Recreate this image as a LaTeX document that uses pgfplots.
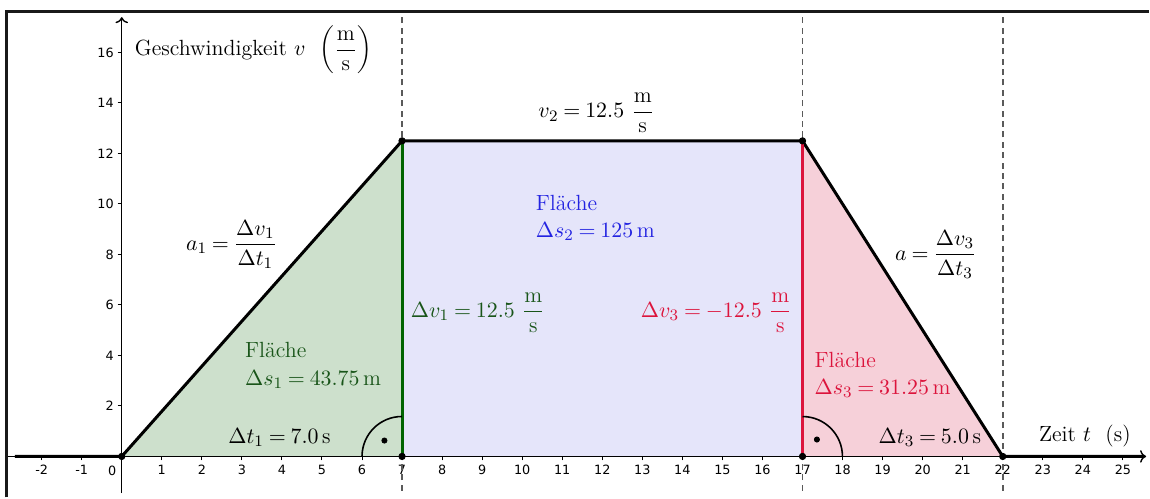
\documentclass[border=0pt]{standalone}
\usepackage{fontspec}
\usepackage{pgfplots}
\pgfplotsset{compat=1.18}
\usetikzlibrary{arrows.meta}
\newfontfamily\tickfont{DejaVu Sans}
\definecolor{gFill}{RGB}{205,224,204}
\definecolor{bFill}{RGB}{229,229,250}
\definecolor{rFill}{RGB}{246,208,217}
\definecolor{gLine}{RGB}{0,100,0}
\definecolor{gText}{RGB}{25,85,25}
\definecolor{bText}{RGB}{35,35,225}
\definecolor{rLine}{RGB}{220,20,60}
\definecolor{dashGray}{RGB}{90,90,90}
\newcommand{\dfrac}[2]{{\displaystyle\frac{#1}{#2}}}
\newcommand{\ms}{\dfrac{\mathrm{m}}{\mathrm{s}}}
\thickmuskip=4mu plus 2mu
\medmuskip=3mu plus 1mu
\tikzset{lbl/.style={font=\fontsize{11}{13.6}\selectfont, inner sep=0pt}}
\begin{document}
\begin{tikzpicture}
\begin{axis}[
  width=575pt, height=249pt, scale only axis,
  xmin=-3.04, xmax=25.64, ymin=-1.62, ymax=18.08,
  axis lines=middle, axis line style={draw=none},
  clip=false,
  xtick={-2,-1,1,2,3,4,5,6,7,8,9,10,11,12,13,14,15,16,17,18,19,20,21,22,23,24,25},
  ytick={2,4,6,8,10,12,14,16},
  tick align=outside, major tick length=2pt,
  tick style={black, line width=0.5pt},
  ticklabel style={font=\tickfont\fontsize{6.4}{7}\selectfont},
  /pgf/number format/assume math mode=true,
  xticklabel style={yshift=1.2pt},
  yticklabel style={xshift=1.5pt},
]
% areas
\addplot[draw=none, fill=gFill] coordinates {(0,0) (7,12.5)} \closedcycle;
\addplot[draw=none, fill=bFill] coordinates {(7,12.5) (17,12.5)} \closedcycle;
\addplot[draw=none, fill=rFill] coordinates {(17,12.5) (22,0)} \closedcycle;

% axes
\draw[line width=0.7pt, -{To[length=3pt]}] (axis cs:-2.87,0) -- (axis cs:25.58,0);
\draw[line width=0.7pt, -{To[length=3pt]}] (axis cs:0,-1.45) -- (axis cs:0,17.4);

% frame (top and left)
\draw[line width=1.5pt, black!90] (axis cs:-2.87,-1.62) -- (axis cs:-2.87,17.64) -- (axis cs:25.64,17.64);

% dashed guides
\foreach \xx in {7,17,22}{
  \edef\tmp{\noexpand\draw[dashGray, line width=0.8pt, dash pattern=on 3pt off 2.2pt]
    (axis cs:\xx,-1.35) -- (axis cs:\xx,17.4);}\tmp
}

% velocity graph
\addplot[black, line width=1.5pt] coordinates
  {(-2.67,0) (0,0) (7,12.5) (17,12.5) (22,0) (25.5,0)};
\addplot[gLine, line width=1.5pt] coordinates {(7,0) (7,12.5)};
\addplot[rLine, line width=1.5pt] coordinates {(17,0) (17,12.5)};
\addplot[black, only marks, mark=*, mark size=1.6pt] coordinates
  {(0,0) (7,12.5) (17,12.5) (7,0) (17,0) (22,0)};

% right-angle marks
\draw[line width=0.8pt] (axis cs:6,0) arc[start angle=180, end angle=90, radius=20pt];
\draw[line width=0.8pt] (axis cs:17,1.58) arc[start angle=90, end angle=0, radius=20pt];
\addplot[black, only marks, mark=*, mark size=1.3pt] coordinates {(6.56,0.63) (17.36,0.67)};

% zero label
\node[font=\tickfont\fontsize{6.4}{7}\selectfont] at (axis cs:-0.24,-0.56) {0};

% texts
\node[lbl, anchor=west] at (axis cs:0.32,16.1)
  {Geschwindigkeit $v$ \ $\left(\ms\right)$};
\node[lbl] at (axis cs:11.85,13.6) {$v_2 = 12.5\ \ms$};
\node[lbl] at (axis cs:2.74,8.4) {$a_1 = \dfrac{\Delta v_1}{\Delta t_1}$};
\node[lbl] at (axis cs:20.33,8.0) {$a = \dfrac{\Delta v_3}{\Delta t_3}$};
\node[lbl, text=gText, anchor=west, align=left] at (axis cs:3.07,3.6)
  {Fläche\\$\Delta s_1 = 43.75\,\mathrm{m}$};
\node[lbl, text=gText, anchor=west] at (axis cs:7.21,5.7) {$\Delta v_1 = 12.5\ \ms$};
\node[lbl, text=bText, anchor=west, align=left] at (axis cs:10.33,9.45)
  {Fläche\\$\Delta s_2 = 125\,\mathrm{m}$};
\node[lbl, text=rLine, anchor=east] at (axis cs:16.74,5.7) {$\Delta v_3 = -12.5\ \ms$};
\node[lbl, text=rLine, anchor=west, align=left] at (axis cs:17.29,3.24)
  {Fläche\\$\Delta s_3 = 31.25\,\mathrm{m}$};
\node[lbl] at (axis cs:3.94,0.75) {$\Delta t_1 = 7.0\,\mathrm{s}$};
\node[lbl] at (axis cs:20.18,0.75) {$\Delta t_3 = 5.0\,\mathrm{s}$};
\node[lbl] at (axis cs:24.05,0.8) {Zeit $t$ \ (s)};
\end{axis}
\end{tikzpicture}
\end{document}
